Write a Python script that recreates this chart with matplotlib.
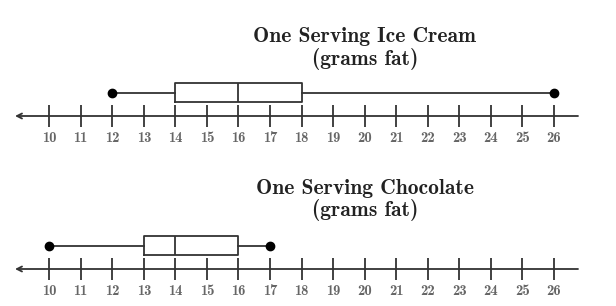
import matplotlib
matplotlib.use("Agg")
import matplotlib.pyplot as plt

# Data
titles = ["One Serving Ice Cream", "One Serving Chocolate"]
subtitle = "(grams fat)"
mins = [12, 10]
q1s = [14, 13]
medians = [16, 14]
q3s = [18, 16]
maxs = [26, 17]
tick_values = list(range(10, 27))
tick_labels = [str(v) for v in tick_values]

W, H = 616, 306
fig = plt.figure(figsize=(W / 100, H / 100), dpi=100)

line_col = "#333333"
label_col = "#666666"

# pixel layout (axis line y, axes left/right)
axis_y = [116, 269]
title_y = [37, 188]
x_left_px, x_right_px = 15, 578
xlim = (8.92, 26.76)
ax_h_px = 46

for i in range(2):
    bottom = 1 - axis_y[i] / H
    ax = fig.add_axes([x_left_px / W, bottom, (x_right_px - x_left_px) / W, ax_h_px / H])
    ax.set_xlim(*xlim)
    ax.set_ylim(0, ax_h_px)
    for s in ["top", "left", "right", "bottom"]:
        ax.spines[s].set_visible(False)
    ax.set_yticks([])
    ax.set_xticks(tick_values)
    ax.set_xticklabels(tick_labels, fontfamily="cmb10", fontsize=10.5, color=label_col)
    ax.tick_params(axis="x", direction="inout", length=16, width=1.3, color=line_col, pad=3)
    # number line with left arrow
    ax.annotate("", xy=(0, 0), xytext=(1, 0), xycoords="axes fraction",
                textcoords="axes fraction",
                arrowprops=dict(arrowstyle="->", color=line_col, lw=1.3,
                                shrinkA=0, shrinkB=0, mutation_scale=9),
                annotation_clip=False)
    stats = [dict(med=medians[i], q1=q1s[i], q3=q3s[i], whislo=mins[i],
                  whishi=maxs[i], fliers=[])]
    props = dict(color=line_col, linewidth=1.3)
    ax.bxp(stats, positions=[23.5], widths=19, orientation="horizontal",
           showcaps=False, showfliers=False,
           boxprops=props, whiskerprops=props, medianprops=props)
    ax.plot([mins[i], maxs[i]], [23.5, 23.5], "o", color="black", markersize=6,
            clip_on=False, zorder=5)
    ax.set_yticks([])
    ax.set_ylim(0, ax_h_px)

    fig.text(365 / W, 1 - title_y[i] / H, titles[i], fontfamily="cmb10",
             fontsize=15.5, ha="center", va="center", color="#222222")
    fig.text(365 / W, 1 - (title_y[i] + 22) / H, subtitle, fontfamily="cmb10",
             fontsize=15.5, ha="center", va="center", color="#222222")

fig.savefig("out.png", dpi=100)
